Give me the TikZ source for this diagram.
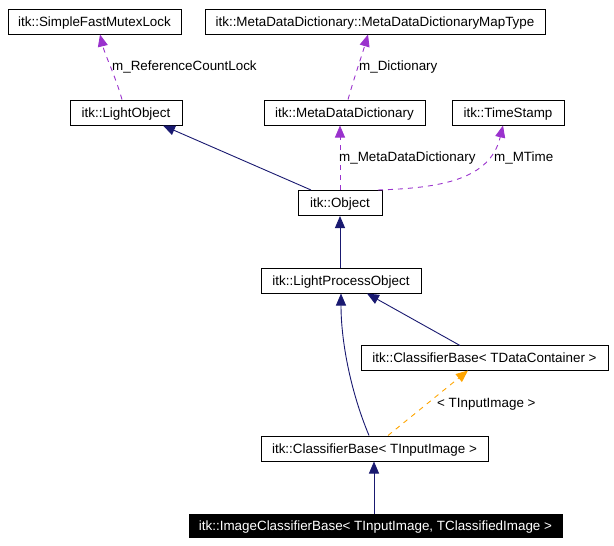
\documentclass[tikz,border=0pt]{standalone}
\usepackage{fontspec}
\setmainfont{Liberation Sans}
\usetikzlibrary{positioning, arrows.meta, calc}
\definecolor{inherit}{RGB}{25,25,112}
\definecolor{member}{RGB}{154,50,205}
\definecolor{templ}{RGB}{255,165,0}

\tikzset{
  cls/.style={draw, line width=1pt, fill=white, minimum height=25pt, inner sep=0pt,
    text height=9.5pt, text depth=0pt, font=\fontsize{13.4}{15}\selectfont},
  lbl/.style={anchor=west, inner sep=0pt, text height=9.5pt, text depth=0pt,
    font=\fontsize{13.4}{15}\selectfont},
  isa/.style={inherit, line width=0.9pt, -{Triangle[length=12pt, width=10pt]}},
  uses/.style={member, line width=0.9pt, dash pattern=on 5pt off 5pt,
    -{Triangle[length=12pt, width=10pt]}},
  tmpl/.style={templ, line width=0.9pt, dash pattern=on 5pt off 5pt,
    -{Triangle[length=12pt, width=10pt]}}
}

\begin{document}
\begin{tikzpicture}[x=1pt, y=-1pt]
  \useasboundingbox (0,0) rectangle (614,546);

  % classes
  \node[cls, minimum width=173pt] (mutex) at (94.5,21.5) {itk::SimpleFastMutexLock};
  \node[cls, minimum width=340pt] (maptype) at (375,21.5) {itk::MetaDataDictionary::MetaDataDictionaryMapType};
  \node[cls, minimum width=112pt] (lightobj) at (126,112.5) {itk::LightObject};
  \node[cls, minimum width=161pt] (mddict) at (344.5,112.5) {itk::MetaDataDictionary};
  \node[cls, minimum width=112pt] (tstamp) at (508,112.5) {itk::TimeStamp};
  \node[cls, minimum width=84pt] (object) at (340,203) {itk::Object};
  \node[cls, minimum width=160pt] (lpo) at (341,280.5) {itk::LightProcessObject};
  \node[cls, minimum width=247pt] (cbdc) at (484.5,357.5) {itk::ClassifierBase< TDataContainer >};
  \node[cls, minimum width=227pt] (cbii) at (374.5,448.5) {itk::ClassifierBase< TInputImage >};
  \node[cls, minimum width=373pt, minimum height=23pt, fill=black, text=white] (icb) at (375.5,525.5)
    {itk::ImageClassifierBase< TInputImage, TClassifiedImage >};

  % members
  \draw[uses] ($(lightobj.north)+(-4,0)$) .. controls (115,75) and (105,55) .. ($(mutex.south)+(5.5,0)$);
  \node[lbl] (l1) at (112,65.5) {m\_ReferenceCountLock};
  \draw[uses] ($(mddict.north)+(3.5,0)$) .. controls (355,75) and (362,55) .. ($(maptype.south)+(-7,0)$);
  \node[lbl] (l2) at (359,65.5) {m\_Dictionary};
  \draw[uses] (object.north) -- (mddict.south -| object.north);
  \node[lbl] (l3) at (339,156.5) {m\_MetaDataDictionary};
  \draw[uses] ($(object.north)+(38,0)$) .. controls (440,188) and (490,180) .. ($(tstamp.south)+(-5,0)$);
  \node[lbl] (l4) at (494,156.5) {m\_MTime};

  % inheritance
  \draw[isa] ($(object.north)+(-29,0)$) -- ($(lightobj.south)+(37,0)$);
  \draw[isa] (lpo.north -| object.south) -- (object.south);
  \draw[isa] ($(cbdc.south)+(-24.5,-25)$) -- ($(lpo.south)+(26,0)$);
  \draw[isa] ($(cbii.north)+(-5.5,0)$) .. controls (350,390) and (341,340) .. (lpo.south);
  \draw[isa] ($(icb.north)+(-1.5,0)$) -- ($(cbii.south)+(-0.5,0)$);

  % template
  \draw[tmpl] ($(cbii.north)+(13.5,0)$) -- ($(cbdc.south)+(-16.5,0)$);
  \node[lbl] (l5) at (437,402.5) {< TInputImage >};
\end{tikzpicture}
\end{document}
